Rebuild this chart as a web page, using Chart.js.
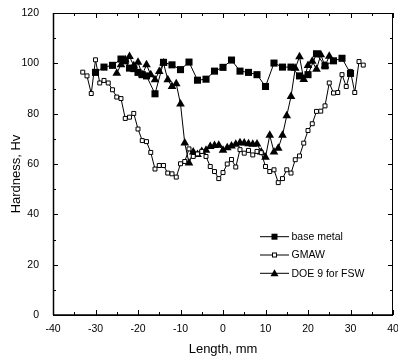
<!DOCTYPE html>
<html><head><meta charset="utf-8">
<script src="https://cdn.jsdelivr.net/npm/chart.js@4.4.1/dist/chart.umd.min.js"></script>
<style>html,body{margin:0;padding:0;background:#fff}#wrap{width:398px;height:362px;position:relative}</style>
</head><body><div id="wrap"><canvas id="c" width="398" height="362"></canvas></div>
<script>
// Data
const baseMetalX = [-30,-28,-26,-24,-23,-22,-21,-20,-19,-18,-16,-14,-12,-10,-8,-6,-4,-2,0,2,4,6,8,10,12,14,16,18,20,22,24,26,28,30];
const baseMetalY = [96.4,98.5,99.2,101.7,101,98.1,97.9,96.4,95.5,95,87.9,100.4,99.4,97.5,100.5,93.3,93.7,96.9,98.4,101.3,96.9,96.4,95.5,90.8,100.1,98.5,98.5,95,95.5,103.8,99,101,102,96];

const gmawX = [-33,-32,-31,-30,-29,-28,-27,-26,-25,-24,-23,-22,-21,-20,-19,-18,-17,-16,-15,-14,-13,-12,-11,-10,-9,-8,-7,-6,-5,-4,-3,-2,-1,0,1,2,3,4,5,6,7,8,9,10,11,12,13,14,15,16,17,18,19,20,21,22,23,24,25,26,27,28,29,30,31,32,33];
const gmawY = [96.5,95,88,101.4,92.2,93.2,92.2,89.5,86.6,86,78.1,78.6,80.1,73.9,69.3,68.9,64.6,58,59.4,59.4,56.4,56.1,54.8,60.1,61,66,63,64,65,63,59,57,54.2,56.6,60,61.8,58.8,65.7,64.3,65.4,63.6,65,64.5,59,57,57.7,52.6,54.2,57.7,56.4,61.7,63.2,68.3,73.3,76,80.9,81,83.1,92.2,88.2,88.4,95.5,90.8,96.8,88.4,100.7,99.3];

const fswX = [-25,-24,-23,-22,-21,-20,-19,-18,-17,-16,-15,-14,-13,-12,-11,-10,-9,-8,-7,-6,-5,-4,-3,-2,-1,0,1,2,3,4,5,6,7,8,9,10,11,12,13,14,15,16,17,18,19,20,21,22,23,24,25];
const fswY = [96.1,99.4,101.4,102.7,99,100.4,95.5,99.4,95.5,93.5,96.8,100.1,93.5,90.8,91.9,83.8,68.3,60.4,64.8,63.8,65,65.5,67,67.4,67.5,65.5,66.5,67.2,67.8,68.4,68.3,68,67.8,67.9,64.8,62.7,71.4,64.8,66.3,71.4,79.2,86.8,98,102.6,93.6,99.1,100.8,97.6,103.4,99,102.8];

const xTicks = [-40,-30,-20,-10,0,10,20,30,40];
const yTicks = [0,20,40,60,80,100,120];
const seriesNames = ['base metal','GMAW','DOE 9 for FSW'];
const xTitle = 'Length, mm';
const yTitle = 'Hardness, Hv';

const FONT = '"Liberation Sans", Arial, sans-serif';
const pts = (xs, ys) => xs.map((x, i) => ({x: x, y: ys[i]}));

const frame = {
  id: 'frame',
  afterDraw(chart) {
    const ctx = chart.ctx, a = chart.chartArea;
    const xs = chart.scales.x, ys = chart.scales.y;
    ctx.save();
    ctx.strokeStyle = '#000';
    ctx.lineWidth = 1;
    ctx.strokeRect(a.left + 0.5, a.top + 0.5, a.right - a.left - 1, a.bottom - a.top);
    ctx.lineWidth = 1.5;
    ctx.beginPath();
    ctx.moveTo(a.left, a.bottom); ctx.lineTo(a.right, a.bottom);
    ctx.moveTo(a.left + 0.5, a.top); ctx.lineTo(a.left + 0.5, a.bottom);
    ctx.stroke();
    ctx.lineWidth = 1;
    ctx.beginPath();
    for (let v = -40; v <= 40; v += 5) {
      const px = Math.round(xs.getPixelForValue(v)) + 0.5;
      const len = (v % 10 === 0) ? 5 : 3;
      ctx.moveTo(px, a.bottom); ctx.lineTo(px, a.bottom - len);
      ctx.moveTo(px, a.top); ctx.lineTo(px, a.top + len);
    }
    for (let v = 0; v <= 120; v += 10) {
      const py = Math.round(ys.getPixelForValue(v)) + 0.5;
      const len = (v % 20 === 0) ? 5 : 3;
      ctx.moveTo(a.left, py); ctx.lineTo(a.left + len, py);
      ctx.moveTo(a.right, py); ctx.lineTo(a.right - len, py);
    }
    ctx.stroke();
    ctx.fillStyle = '#000';
    ctx.font = '13px ' + FONT;
    ctx.textAlign = 'center'; ctx.textBaseline = 'middle';
    ctx.fillText(xTitle, (a.left + a.right) / 2, 349);
    ctx.save();
    ctx.translate(16, 174); ctx.rotate(-Math.PI / 2);
    ctx.fillText(yTitle, 0, 0);
    ctx.restore();
    const rows = [236.7, 255, 273.3];
    const styles = chart.data.datasets;
    ctx.font = '10.5px ' + FONT;
    ctx.textAlign = 'left';
    rows.forEach((ry, i) => {
      ctx.beginPath(); ctx.lineWidth = 1;
      ctx.moveTo(260, ry); ctx.lineTo(289, ry); ctx.stroke();
      const cx = 274.5;
      ctx.beginPath();
      if (i === 0) { ctx.fillStyle = '#000'; ctx.fillRect(cx - 3, ry - 3, 6, 6); }
      else if (i === 1) { ctx.fillStyle = '#fff'; ctx.fillRect(cx - 2, ry - 2, 4, 4); ctx.strokeRect(cx - 2, ry - 2, 4, 4); }
      else { ctx.fillStyle = '#000'; ctx.moveTo(cx, ry - 4); ctx.lineTo(cx + 4, ry + 3); ctx.lineTo(cx - 4, ry + 3); ctx.closePath(); ctx.fill(); }
      ctx.fillStyle = '#000';
      ctx.fillText(styles[i].label, 291.5, ry + 0.5);
    });
    ctx.restore();
  }
};

new Chart(document.getElementById('c'), {
  type: 'scatter',
  data: {
    datasets: [
      { label: seriesNames[0], data: pts(baseMetalX, baseMetalY), showLine: true, borderColor: '#000', borderWidth: 1,
        pointStyle: 'rect', pointRadius: 5, backgroundColor: '#000', pointBorderColor: '#000', pointBorderWidth: 0 },
      { label: seriesNames[1], data: pts(gmawX, gmawY), showLine: true, borderColor: '#000', borderWidth: 1,
        pointStyle: 'rect', pointRadius: 2.8, backgroundColor: '#fff', pointBackgroundColor: '#fff', pointBorderColor: '#000', pointBorderWidth: 1 },
      { label: seriesNames[2], data: pts(fswX, fswY), showLine: true, borderColor: '#000', borderWidth: 1,
        pointStyle: 'triangle', pointRadius: 5, backgroundColor: '#000', pointBorderColor: '#000', pointBorderWidth: 0 }
    ]
  },
  options: {
    responsive: false, animation: false, devicePixelRatio: 1,
    layout: { padding: { left: 0, right: 4, top: 13, bottom: 0 } },
    plugins: { legend: { display: false }, tooltip: { enabled: false } },
    scales: {
      x: {
        type: 'linear', min: -40, max: 40,
        grid: { display: false }, border: { display: false },
        afterBuildTicks: s => { s.ticks = xTicks.map(v => ({value: v})); },
        ticks: { color: '#000', font: { family: FONT, size: 10.5 }, padding: 0, maxRotation: 0, autoSkip: false },
        afterFit: s => { s.height = 47; s.paddingLeft = 0; s.paddingRight = 0; }
      },
      y: {
        type: 'linear', min: 0, max: 120,
        grid: { display: false }, border: { display: false },
        afterBuildTicks: s => { s.ticks = yTicks.map(v => ({value: v})); },
        ticks: { color: '#000', font: { family: FONT, size: 10.5 }, padding: 6 },
        afterFit: s => { s.width = 53; s.paddingTop = 0; s.paddingBottom = 0; }
      }
    }
  },
  plugins: [frame]
});
</script>
</body></html>
